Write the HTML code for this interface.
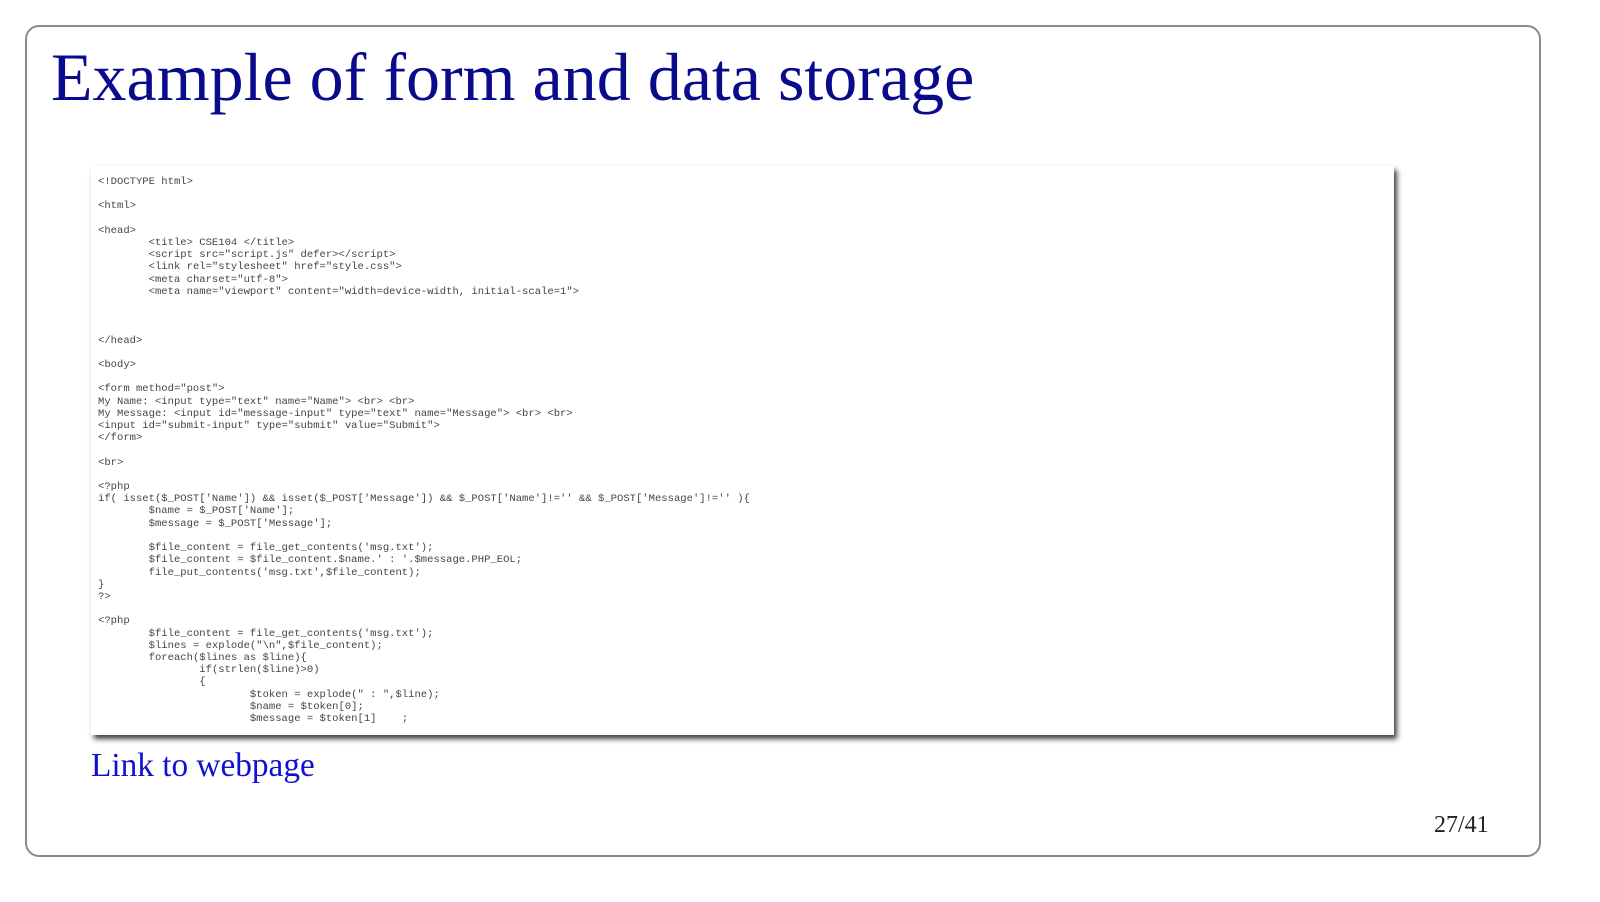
<!DOCTYPE html>
<html><head><style>
body{margin:0;width:1600px;height:902px;background:#fff;position:relative;overflow:hidden}
.frame{position:absolute;left:25px;top:25px;width:1516px;height:832px;border:2px solid #8a8a8a;border-radius:14px;box-sizing:border-box}
h1{position:absolute;left:51px;top:38px;margin:0;font:400 68px "Liberation Serif",serif;color:#0a0a8c;white-space:nowrap}
.code{position:absolute;left:91px;top:166px;width:1303px;height:569px;background:#fff;box-shadow:3px 4px 5px rgba(0,0,0,.75);overflow:hidden}
pre{margin:0;position:absolute;left:7px;top:10px;font:10.55px/12.2px "Liberation Mono",monospace;color:#444;tab-size:8}
.link{position:absolute;left:91px;top:747px;font:33.3px "Liberation Serif",serif;color:#1010d0}
.pg{position:absolute;left:1434px;top:812px;font:24px "Liberation Serif",serif;color:#222}
</style></head><body>
<div class="frame"></div>
<h1>Example of form and data storage</h1>
<div class="code"><pre>&lt;!DOCTYPE html&gt;

&lt;html&gt;

&lt;head&gt;
	&lt;title&gt; CSE104 &lt;/title&gt;
	&lt;script src="script.js" defer&gt;&lt;/script&gt;
	&lt;link rel="stylesheet" href="style.css"&gt;
	&lt;meta charset="utf-8"&gt;
	&lt;meta name="viewport" content="width=device-width, initial-scale=1"&gt;



&lt;/head&gt;

&lt;body&gt;

&lt;form method="post"&gt;
My Name: &lt;input type="text" name="Name"&gt; &lt;br&gt; &lt;br&gt;
My Message: &lt;input id="message-input" type="text" name="Message"&gt; &lt;br&gt; &lt;br&gt;
&lt;input id="submit-input" type="submit" value="Submit"&gt;
&lt;/form&gt;

&lt;br&gt;

&lt;?php
if( isset($_POST['Name']) &amp;&amp; isset($_POST['Message']) &amp;&amp; $_POST['Name']!='' &amp;&amp; $_POST['Message']!='' ){
	$name = $_POST['Name'];
	$message = $_POST['Message'];

	$file_content = file_get_contents('msg.txt');
	$file_content = $file_content.$name.' : '.$message.PHP_EOL;
	file_put_contents('msg.txt',$file_content);
}
?&gt;

&lt;?php
	$file_content = file_get_contents('msg.txt');
	$lines = explode("\n",$file_content);
	foreach($lines as $line){
		if(strlen($line)&gt;0)
		{
			$token = explode(" : ",$line);
			$name = $token[0];
			$message = $token[1]	;
</pre></div>
<div class="link">Link to webpage</div>
<div class="pg">27/41</div>
</body></html>
